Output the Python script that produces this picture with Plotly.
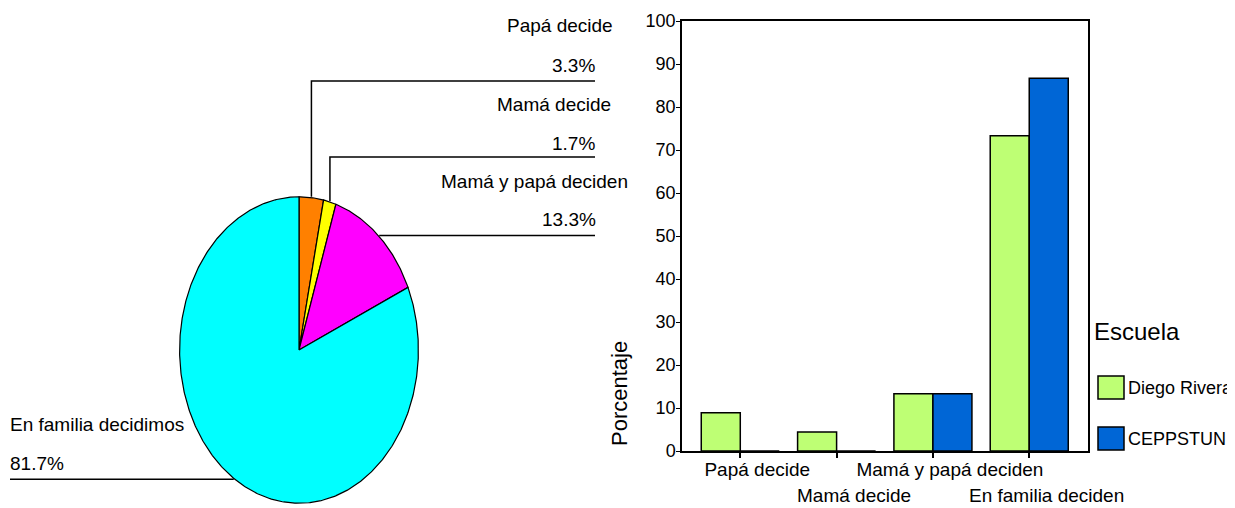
import numpy as np
import plotly.graph_objects as go

# the page places the figure 8px from the top-left corner of the window
OFF = 8
W, H = 1235 - OFF, 508 - OFF
FONT = "Liberation Sans, Arial, sans-serif"

# ---------------- data ----------------
pie_labels = ["Papá decide", "Mamá decide", "Mamá y papá deciden", "En familia decidimos"]
pie_values = [3.3, 1.7, 13.3, 81.7]
pie_colors = ["#FF8000", "#FFFF00", "#FF00FF", "#00FFFF"]

categories = ["Papá decide", "Mamá decide", "Mamá y papá deciden", "En familia deciden"]
diego_rivera = [8.9, 4.4, 13.3, 73.3]
ceppstun = [0.0, 0.0, 13.3, 86.7]
series_names = ["Diego Rivera", "CEPPSTUN"]
series_colors = ["#BEFF74", "#0066D6"]
y_ticks = [0, 10, 20, 30, 40, 50, 60, 70, 80, 90, 100]
y_title = "Porcentaje"
legend_title = "Escuela"


def px(x):
    return (x - OFF) / W


def py(y):
    return 1 - (y - OFF) / H


fig = go.Figure()

# ---------------- pie (elliptical) ----------------
PIE_L, PIE_R, PIE_T, PIE_B = 179, 419, 196, 504
total = sum(pie_values)
start = 0.0
mids = []
for lab, val, col in zip(pie_labels, pie_values, pie_colors):
    f0, f1 = start / total, (start + val) / total
    t = np.linspace(f0, f1, max(3, int(val * 6))) * 2 * np.pi
    xs = np.concatenate([[0], np.sin(t), [0]])
    ys = np.concatenate([[0], np.cos(t), [0]])
    fig.add_trace(go.Scatter(
        x=xs, y=ys, xaxis="x3", yaxis="y3", mode="lines",
        fill="toself", fillcolor=col, line=dict(color="black", width=1.2),
        name=lab, hoverinfo="name", showlegend=False))
    mids.append((start + val / 2) / total * 2 * np.pi)
    start += val


def pie_point(theta):
    xpix = PIE_L + (np.sin(theta) + 1) / 2 * (PIE_R - PIE_L)
    ypix = PIE_B - (np.cos(theta) + 1) / 2 * (PIE_B - PIE_T)
    return xpix, ypix


# label layout: (label left x, label y, pct x, pct y, pct anchor, line y (None = horizontal), line end x)
label_layout = [
    (505, 25, 597, 66, "right", 81, 595),
    (495, 105, 597, 143, "right", 157, 595),
    (439, 181, 598, 220, "right", None, 595),
    (8, 424, 8, 463, "left", None, 10),
]

shapes = []
annotations = []
for i, (lab, val) in enumerate(zip(pie_labels, pie_values)):
    lx, ly, pcx, pcy, anc, liney, endx = label_layout[i]
    mx, my = pie_point(mids[i])
    if liney is not None:
        path = f"M {px(mx)},{py(my)} L {px(mx)},{py(liney)} L {px(endx)},{py(liney)}"
    else:
        path = f"M {px(mx)},{py(my)} L {px(endx)},{py(my)}"
    shapes.append(dict(type="path", xref="paper", yref="paper", path=path,
                       line=dict(color="black", width=1.5)))
    annotations.append(dict(x=px(lx), y=py(ly), xref="paper", yref="paper", text=lab,
                            showarrow=False, xanchor="left", yanchor="middle",
                            font=dict(size=19, color="black", family=FONT)))
    annotations.append(dict(x=px(pcx), y=py(pcy), xref="paper", yref="paper",
                            text=f"{val:.1f}%", showarrow=False, xanchor=anc, yanchor="middle",
                            font=dict(size=19, color="black", family=FONT)))

# ---------------- bars ----------------
for name, vals, col in zip(series_names, [diego_rivera, ceppstun], series_colors):
    fig.add_trace(go.Bar(
        x=categories, y=vals, name=name,
        marker=dict(color=col, line=dict(color="black", width=1.5)),
        showlegend=False, xaxis="x", yaxis="y"))

# staggered second row of category labels
for i, c in enumerate(categories):
    if i % 2 == 1:
        annotations.append(dict(x=c, y=py(495), xref="x", yref="paper", text=c,
                                showarrow=False, xanchor="center", yanchor="middle",
                                xshift=17,
                                font=dict(size=19, color="black", family=FONT)))

# manual legend
annotations.append(dict(x=px(1092), y=py(331), xref="paper", yref="paper", text=legend_title,
                        showarrow=False, xanchor="left", yanchor="middle",
                        font=dict(size=24, color="black", family=FONT)))
for k, (name, col) in enumerate(zip(series_names, series_colors)):
    top = 376 + k * 51
    shapes.append(dict(type="rect", xref="paper", yref="paper",
                       x0=px(1098), x1=px(1124), y0=py(top), y1=py(top + 23),
                       fillcolor=col, line=dict(color="black", width=1.5)))
    annotations.append(dict(x=px(1126), y=py(top + 11.5), xref="paper", yref="paper", text=name,
                            showarrow=False, xanchor="left", yanchor="middle",
                            font=dict(size=18, color="black", family=FONT)))

# y-axis title
annotations.append(dict(x=px(619), y=py(394), xref="paper", yref="paper", text=y_title,
                        showarrow=False, textangle=-90, xanchor="center", yanchor="middle",
                        font=dict(size=22, color="black", family=FONT)))

XR = [-0.605, 3.61]
row1 = [c if i % 2 == 0 else "" for i, c in enumerate(categories)]

fig.update_layout(
    width=W, height=H,
    margin=dict(l=0, r=0, t=0, b=0, autoexpand=False),
    paper_bgcolor="white", plot_bgcolor="white",
    font=dict(family=FONT, color="black"),
    barmode="group", bargap=0.19, bargroupgap=0,
    showlegend=False,
    xaxis=dict(domain=[px(682), px(1088)], anchor="y", type="category",
               categoryorder="array", categoryarray=categories, range=XR,
               showline=True, linecolor="black", linewidth=2, mirror=True,
               ticks="outside", ticklen=5, tickwidth=1.5, tickcolor="black",
               tickmode="array", tickvals=categories, ticktext=row1,
               ticklabelstandoff=-5, ticklabelshift=17,
               tickfont=dict(size=19, color="black", family=FONT),
               showgrid=False, zeroline=False, fixedrange=True),
    yaxis=dict(domain=[py(451), py(21)], anchor="x", range=[0, 100],
               tickmode="array", tickvals=y_ticks,
               showline=True, linecolor="black", linewidth=1.5, mirror=True,
               ticks="outside", ticklen=4, tickcolor="black",
               ticklabelstandoff=-3,
               tickfont=dict(size=18, color="black", family=FONT),
               showgrid=False, zeroline=False, fixedrange=True),
    xaxis3=dict(domain=[px(PIE_L), px(PIE_R)], range=[-1.005, 1.005], visible=False,
                anchor="y3", fixedrange=True),
    yaxis3=dict(domain=[py(PIE_B), py(PIE_T)], range=[-1.005, 1.005], visible=False,
                anchor="x3", fixedrange=True),
    shapes=shapes,
    annotations=annotations,
)

fig.write_html("out.html")
